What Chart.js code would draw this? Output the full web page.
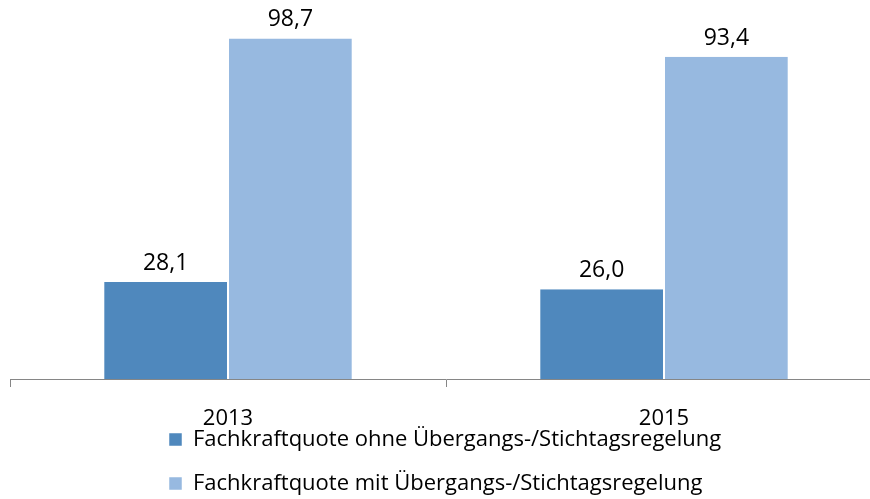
<!DOCTYPE html>
<html>
<head>
<meta charset="utf-8">
<script src="https://cdn.jsdelivr.net/npm/chart.js@4/dist/chart.umd.min.js"></script>
<style>
  html, body { margin: 0; padding: 0; background: #fff; overflow: hidden; }
  #wrap { width: 882px; height: 499px; position: relative; }
</style>
</head>
<body>
<div id="wrap"><canvas id="c"></canvas></div>
<script>
const categories = ["2013", "2015"];
const seriesNames = [
  "Fachkraftquote ohne Übergangs-/Stichtagsregelung",
  "Fachkraftquote mit Übergangs-/Stichtagsregelung"
];
const valuesOhne = [28.1, 26.0];
const valuesMit = [98.7, 93.4];

const FONT = "'Open Sans', sans-serif";

const valueLabels = {
  id: 'valueLabels',
  afterDatasetsDraw(chart) {
    const ctx = chart.ctx;
    ctx.save();
    ctx.font = "23px " + FONT;
    ctx.fillStyle = '#000';
    ctx.textAlign = 'center';
    ctx.textBaseline = 'alphabetic';
    chart.data.datasets.forEach((ds, i) => {
      chart.getDatasetMeta(i).data.forEach((bar, j) => {
        const txt = ds.data[j].toFixed(1).replace('.', ',');
        ctx.fillText(txt, bar.x, bar.y - 12);
      });
    });
    ctx.restore();
  }
};

const legendShift = {
  id: 'legendShift',
  beforeDraw(chart) {
    const lg = chart.legend;
    if (lg && !lg._shifted) {
      lg.left += 137;
      const dy = 406.5 - lg.top;
      lg.top += dy; lg.bottom += dy;
      lg._shifted = true;
    }
  },
  afterUpdate(chart) { if (chart.legend) chart.legend._shifted = false; }
};

new Chart(document.getElementById('c'), {
  type: 'bar',
  data: {
    labels: categories,
    datasets: [
      { label: seriesNames[0], data: valuesOhne, backgroundColor: '#4F88BD', borderColor: '#ffffff', borderWidth: {left:1, right:1, top:0, bottom:0} },
      { label: seriesNames[1], data: valuesMit, backgroundColor: '#97B9E0', borderColor: '#ffffff', borderWidth: {left:1, right:1, top:0, bottom:0} }
    ]
  },
  options: {
    responsive: true,
    maintainAspectRatio: false,
    animation: false,
    layout: { padding: { left: 10, right: 0, top: 34, bottom: -32 } },
    datasets: { bar: { categoryPercentage: 0.572, barPercentage: 1 } },
    scales: {
      x: {
        grid: { offset: true, drawOnChartArea: false, drawTicks: true, tickLength: 8, color: '#868686', lineWidth: 1 },
        border: { display: true, color: '#868686', width: 1 },
        ticks: { color: '#000', font: { family: FONT, size: 22 }, padding: 19 },
        afterFit(scale) { scale.height = 54; }
      },
      y: { display: false, min: 0, max: 100 }
    },
    plugins: {
      legend: {
        position: 'bottom',
        align: 'start',
        labels: {
          color: '#000',
          font: { family: FONT, size: 22 },
          boxWidth: 13, boxHeight: 13,
          padding: 22
        }
      },
      tooltip: { enabled: false }
    }
  },
  plugins: [valueLabels, legendShift]
});
</script>
</body>
</html>
